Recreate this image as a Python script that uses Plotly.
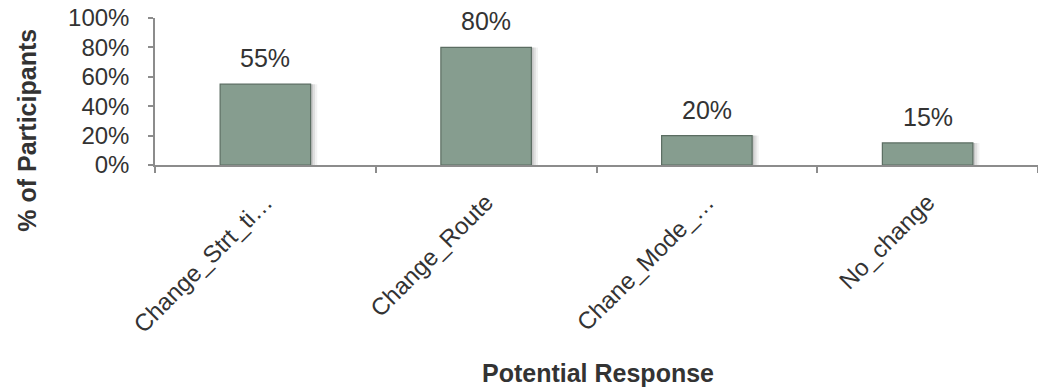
import plotly.graph_objects as go

# Survey results: share of participants per potential response
categories = ["Change_Strt_ti…", "Change_Route", "Chane_Mode_…", "No_change"]
values = [0.55, 0.80, 0.20, 0.15]
value_labels = ["55%", "80%", "20%", "15%"]
y_ticks = [0, 0.2, 0.4, 0.6, 0.8, 1.0]
y_tick_labels = ["0%", "20%", "40%", "60%", "80%", "100%"]

BAR_W = 0.41
FONT = "Liberation Sans, Arial, sans-serif"
TEXT = "#333333"
AXIS = "#8c8c8c"

fig = go.Figure()

# soft drop shadow to the right of each bar
for shift, alpha in [(0.030, 0.05), (0.020, 0.08), (0.010, 0.11)]:
    fig.add_trace(go.Bar(
        x=categories, y=values, width=BAR_W, offset=-BAR_W / 2 + shift,
        marker=dict(color=f"rgba(0,0,0,{alpha})", line=dict(width=0)),
        hoverinfo="skip", showlegend=False,
    ))

# main bars
fig.add_trace(go.Bar(
    x=categories, y=values, width=BAR_W, offset=-BAR_W / 2,
    marker=dict(color="#869d8f", line=dict(color="#5b6d62", width=1.2)),
    showlegend=False,
))

# value labels above the bars
for c, v, lab in zip(categories, values, value_labels):
    fig.add_annotation(
        x=c, y=v, text=lab, showarrow=False, yanchor="bottom", yshift=10,
        font=dict(family=FONT, size=25, color=TEXT),
    )

# axis titles
fig.add_annotation(
    xref="paper", yref="paper", x=-0.145, y=0.24, xanchor="center", yanchor="middle",
    text="<b>% of Participants</b>", textangle=-90, showarrow=False,
    font=dict(family=FONT, size=25, color=TEXT),
)
fig.add_annotation(
    xref="paper", yref="paper", x=0.502, y=-1.415, xanchor="center", yanchor="middle",
    text="<b>Potential Response</b>", showarrow=False,
    font=dict(family=FONT, size=25, color=TEXT),
)

fig.update_layout(
    width=1038, height=392,
    margin=dict(l=155, r=0, t=18, b=227),
    plot_bgcolor="white", paper_bgcolor="white",
    barmode="overlay",
    font=dict(family=FONT, color=TEXT),
)

fig.update_xaxes(
    type="category", range=[-0.5, 3.5],
    showline=True, linecolor=AXIS, linewidth=1.5,
    ticks="outside", tickson="boundaries", ticklen=6, tickcolor=AXIS, tickwidth=1.5,
    tickangle=-45, tickfont=dict(family=FONT, size=24, color=TEXT),
    ticklabelstandoff=12,
    showgrid=False, zeroline=False,
)

fig.update_yaxes(
    range=[0, 1.0], tickvals=y_ticks, ticktext=y_tick_labels,
    showline=True, linecolor=AXIS, linewidth=1.5,
    ticks="outside", ticklen=5, tickcolor=AXIS, tickwidth=1.5,
    tickfont=dict(family=FONT, size=24, color=TEXT),
    ticklabelstandoff=14,
    showgrid=False, zeroline=False,
)

fig.write_html("out.html")
